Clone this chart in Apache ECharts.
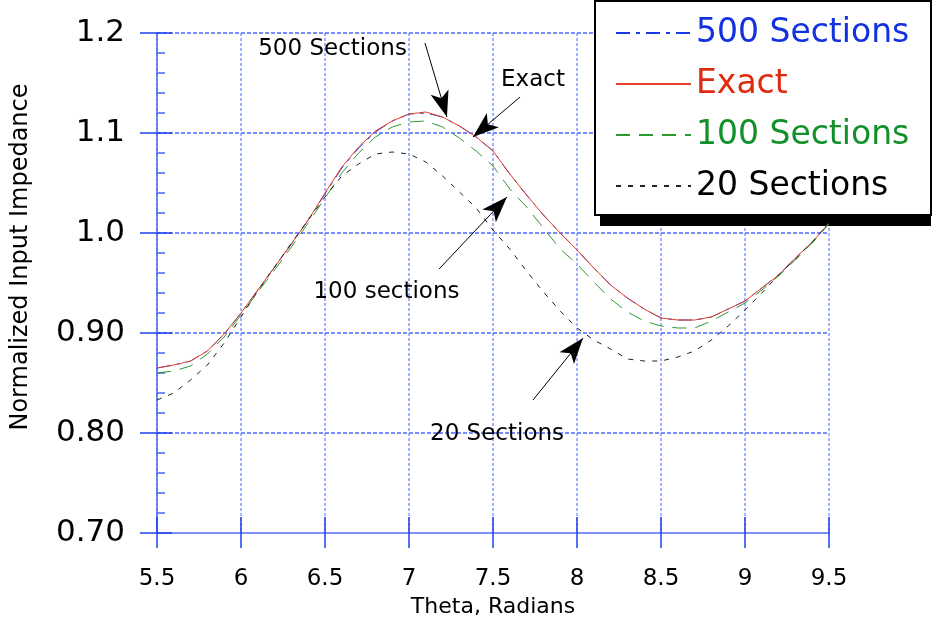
<!DOCTYPE html>
<html>
<head>
<meta charset="utf-8">
<script src="https://cdn.jsdelivr.net/npm/echarts@6/dist/echarts.min.js"></script>
<style>
  html, body { margin: 0; padding: 0; background: #fff; }
  #chart { width: 933px; height: 626px; }
</style>
</head>
<body>
<div id="chart"></div>
<script>
const theta = [5.5, 5.6, 5.7, 5.8, 5.9, 6.0, 6.1, 6.2, 6.3, 6.4, 6.5, 6.6, 6.7, 6.8, 6.9, 7.0, 7.1, 7.2, 7.3, 7.4,
    7.5, 7.6, 7.7, 7.8, 7.9, 8.0, 8.1, 8.2, 8.3, 8.4, 8.5, 8.6, 8.7, 8.8, 8.9, 9.0, 9.1, 9.2, 9.3, 9.4, 9.5];

const sections500 = [0.865, 0.868, 0.872, 0.882, 0.899, 0.920, 0.943, 0.966, 0.989, 1.013, 1.039, 1.065, 1.085, 1.101,
    1.112, 1.119, 1.120, 1.116, 1.107, 1.096, 1.082, 1.059, 1.038, 1.018, 1.000, 0.983, 0.965, 0.948, 0.935, 0.924,
    0.915, 0.913, 0.913, 0.916, 0.924, 0.932, 0.945, 0.958, 0.975, 0.991, 1.010];
const exact = [0.865, 0.868, 0.872, 0.882, 0.899, 0.920, 0.943, 0.966, 0.989, 1.013, 1.040, 1.066, 1.086, 1.102,
    1.112, 1.119, 1.121, 1.116, 1.107, 1.096, 1.082, 1.059, 1.038, 1.018, 1.000, 0.983, 0.965, 0.948, 0.935, 0.924,
    0.915, 0.913, 0.913, 0.916, 0.924, 0.932, 0.945, 0.958, 0.975, 0.991, 1.010];
const sections100 = [0.860, 0.862, 0.867, 0.879, 0.896, 0.918, 0.941, 0.963, 0.986, 1.010, 1.035, 1.060, 1.080, 1.096,
    1.106, 1.111, 1.112, 1.106, 1.095, 1.082, 1.067, 1.044, 1.026, 1.005, 0.984, 0.969, 0.951, 0.934, 0.921, 0.912,
    0.907, 0.905, 0.905, 0.912, 0.921, 0.930, 0.943, 0.957, 0.973, 0.990, 1.009];
const sections20 = [0.833, 0.840, 0.853, 0.868, 0.890, 0.916, 0.942, 0.966, 0.990, 1.013, 1.036, 1.057, 1.069, 1.079,
    1.081, 1.079, 1.071, 1.057, 1.041, 1.025, 1.003, 0.984, 0.962, 0.941, 0.922, 0.905, 0.893, 0.884, 0.874, 0.872,
    0.872, 0.876, 0.882, 0.893, 0.907, 0.923, 0.940, 0.958, 0.974, 0.991, 1.010];

const xTickLabels = ['5.5', '6', '6.5', '7', '7.5', '8', '8.5', '9', '9.5'];
const yTickLabels = ['0.70', '0.80', '0.90', '1.0', '1.1', '1.2'];

// annotation texts and the arrows pointing at the curves (data coords)
const noteTexts = ['500 Sections', 'Exact', '100 sections', '20 Sections'];
const notePos = [[6.545, 1.184], [7.738, 1.153], [6.866, 0.941], [7.524, 0.799]];
const arrowFrom = [[7.095, 1.190], [7.661, 1.136], [7.179, 0.964], [7.738, 0.833]];
const arrowTo = [[7.226, 1.116], [7.381, 1.096], [7.583, 1.036], [8.036, 0.895]];

const FONT = 'DejaVu Sans';
const hGridColor = '#2a4cff';
const vGridColor = '#5a74ff';
const axisColor = '#2040f0';
// 1px axis strokes come out grey here, so the axis parts use 1.5
const thin = 1.5;

const chart = echarts.init(document.getElementById('chart'));

const pairs = (vals) => theta.map((t, i) => [t, vals[i]]);

const option = {
    animation: false,
    backgroundColor: '#fff',
    grid: { left: 157, right: 104, top: 33, bottom: 93 },
    // legend frame with its hard black drop shadow
    graphic: [
        { type: 'rect', z: 3, silent: true, shape: { x: 600, y: 10, width: 331, height: 216 }, style: { fill: '#000' } },
        { type: 'rect', z: 3, silent: true, shape: { x: 595, y: 1, width: 336, height: 214 },
          style: { fill: '#fff', stroke: '#000', lineWidth: 2 } }
    ],
    legend: {
        orient: 'vertical',
        left: 595,
        top: 1,
        z: 5,
        padding: [14, 20, 12, 20],
        itemWidth: 75,
        itemHeight: 20,
        itemGap: 15,
        itemStyle: { opacity: 0, borderWidth: 0 },
        textStyle: { fontFamily: FONT, fontSize: 33, lineHeight: 36 },
        data: [
            { name: '500 Sections', textStyle: { color: '#1232e0' } },
            { name: 'Exact', textStyle: { color: '#e02a10' } },
            { name: '100 Sections', textStyle: { color: '#12902a' } },
            { name: '20 Sections', textStyle: { color: '#000' } }
        ]
    },
    xAxis: [
        {
            type: 'value',
            min: 5.5,
            max: 9.5,
            interval: 0.5,
            name: 'Theta, Radians',
            nameLocation: 'middle',
            nameGap: 60,
            nameTextStyle: { fontFamily: FONT, fontSize: 22, color: '#000' },
            axisLine: { show: true, onZero: false, lineStyle: { color: '#7a90f2', width: 2 } },
            axisTick: { show: true, inside: false, length: 15, lineStyle: { color: axisColor, width: thin } },
            axisLabel: {
                margin: 35,
                fontFamily: FONT,
                fontSize: 23,
                color: '#000',
                formatter: (v) => xTickLabels[Math.round((v - 5.5) / 0.5)]
            },
            splitLine: { show: true, lineStyle: { color: vGridColor, type: [3, 2], width: thin, opacity: 0.75 } }
        },
        {
            type: 'value',
            min: 5.5,
            max: 9.5,
            interval: 0.5,
            position: 'bottom',
            axisLine: { show: false },
            axisTick: { show: true, inside: true, length: 16, lineStyle: { color: axisColor, width: thin } },
            axisLabel: { show: false },
            splitLine: { show: false }
        }
    ],
    yAxis: [
        {
            type: 'value',
            min: 0.7,
            max: 1.2,
            interval: 0.1,
            name: 'Normalized Input Impedance',
            nameLocation: 'middle',
            nameGap: 124,
            nameRotate: 90,
            nameTextStyle: { fontFamily: FONT, fontSize: 24, color: '#000', padding: [0, 0, 0, 52] },
            axisLine: { show: true, onZero: false, lineStyle: { color: '#4a66ee', width: thin } },
            axisTick: { show: true, inside: false, length: 17, lineStyle: { color: axisColor, width: thin } },
            axisLabel: {
                margin: 32,
                fontFamily: FONT,
                fontSize: 31,
                color: '#000',
                formatter: (v) => yTickLabels[Math.round((v - 0.7) / 0.1)]
            },
            splitLine: { show: true, lineStyle: { color: hGridColor, type: [4, 2], width: thin, opacity: 0.85 } }
        },
        {
            type: 'value',
            min: 0.7,
            max: 1.2,
            interval: 0.1,
            position: 'left',
            axisLine: { show: false },
            axisTick: { show: true, inside: true, length: 15, lineStyle: { color: axisColor, width: thin } },
            minorTick: { show: true, splitNumber: 5, length: 8, lineStyle: { color: '#4a66f0', width: thin } },
            axisLabel: { show: false },
            splitLine: { show: false }
        }
    ],
    series: [
        {
            name: '500 Sections',
            type: 'line',
            symbol: 'none',
            data: pairs(sections500),
            lineStyle: { color: '#1a3ae8', width: 1, type: [14, 6, 4, 6] },
            itemStyle: { color: '#1a3ae8' }
        },
        {
            name: 'Exact',
            type: 'line',
            symbol: 'none',
            data: pairs(exact),
            lineStyle: { color: '#e8402a', width: 1, type: 'solid' },
            itemStyle: { color: '#e8402a' },
            markLine: {
                silent: true,
                symbol: ['none', 'arrow'],
                symbolSize: [14, 26],
                label: { show: false },
                lineStyle: { color: '#000', width: 1, type: 'solid' },
                data: arrowFrom.map((p, i) => [{ coord: p }, { coord: arrowTo[i] }])
            },
            markPoint: {
                silent: true,
                symbol: 'circle',
                symbolSize: 1,
                itemStyle: { color: 'rgba(0,0,0,0)' },
                label: {
                    show: true,
                    position: 'inside',
                    formatter: '{b}',
                    fontFamily: FONT,
                    fontSize: 23,
                    color: '#000'
                },
                data: noteTexts.map((t, i) => ({ name: t, coord: notePos[i] }))
            }
        },
        {
            name: '100 Sections',
            type: 'line',
            symbol: 'none',
            data: pairs(sections100),
            lineStyle: { color: '#2a9a30', width: 1, type: [14, 9] },
            itemStyle: { color: '#2a9a30' }
        },
        {
            name: '20 Sections',
            type: 'line',
            symbol: 'none',
            data: pairs(sections20),
            lineStyle: { color: '#222', width: 1, type: [5, 7] },
            itemStyle: { color: '#222' }
        }
    ]
};

chart.setOption(option);
</script>
</body>
</html>
